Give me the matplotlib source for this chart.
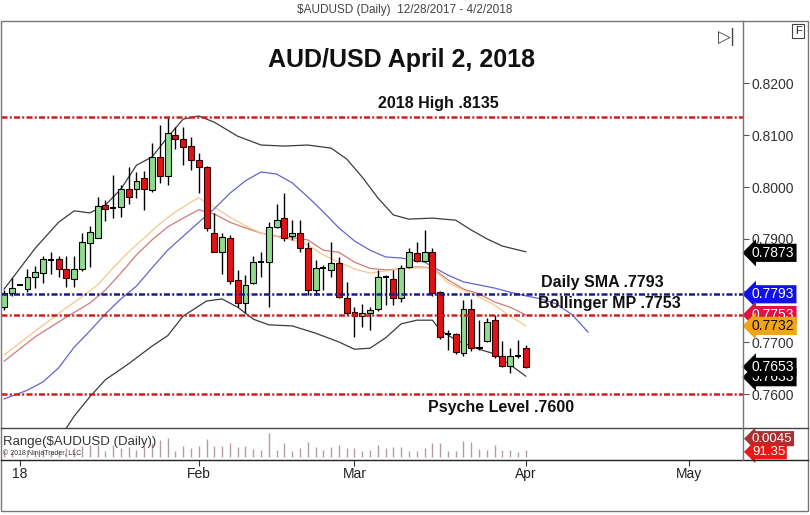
import matplotlib
matplotlib.use("Agg")
import matplotlib.pyplot as plt
import numpy as np
from matplotlib.transforms import blended_transform_factory
from matplotlib.lines import Line2D
from matplotlib.patches import Rectangle

# ---------------- data ----------------
opens = [0.7768,0.7795,0.7811,0.7803,0.7827,0.7835,0.7859,0.7861,0.7841,0.7822,
         0.7841,0.7891,0.7901,0.7965,0.7960,0.7962,0.7996,0.7997,0.8017,0.7994,
         0.8058,0.8022,0.8100,0.8092,0.8079,0.8053,0.8038,0.7911,0.7875,0.7901,
         0.7821,0.7777,0.7814,0.7856,0.7856,0.7923,0.7940,0.7906,0.7911,0.7882,
         0.7801,0.7843,0.7839,0.7853,0.7785,0.7758,0.7752,0.7756,0.7764,0.7826,
         0.7822,0.7785,0.7845,0.7872,0.7858,0.7875,0.7797,0.7716,0.7716,0.7680,
         0.7764,0.7689,0.7703,0.7743,0.7674,0.7655,0.7673,0.7689]
highs = [0.7801,0.7824,0.7812,0.7842,0.7847,0.7867,0.7875,0.7866,0.7867,0.7867,
         0.7911,0.7925,0.7980,0.7975,0.8023,0.8004,0.8038,0.8028,0.8031,0.8084,
         0.8120,0.8136,0.8116,0.8116,0.8097,0.8065,0.8041,0.7950,0.7911,0.7907,
         0.7840,0.7830,0.7866,0.7875,0.7933,0.7968,0.7988,0.7936,0.7936,0.7894,
         0.7859,0.7850,0.7894,0.7865,0.7817,0.7769,0.7774,0.7769,0.7840,0.7830,
         0.7840,0.7850,0.7882,0.7894,0.7917,0.7882,0.7800,0.7724,0.7718,0.7782,
         0.7784,0.7743,0.7747,0.7753,0.7702,0.7689,0.7705,0.7695]
lows = [0.7762,0.7790,0.7810,0.7797,0.7805,0.7815,0.7833,0.7827,0.7808,0.7808,
        0.7838,0.7846,0.7901,0.7934,0.7941,0.7942,0.7967,0.7978,0.7956,0.7991,
        0.8007,0.8004,0.8073,0.8042,0.8033,0.7988,0.7915,0.7875,0.7833,0.7813,
        0.7769,0.7756,0.7812,0.7827,0.7769,0.7920,0.7895,0.7898,0.7875,0.7792,
        0.7792,0.7801,0.7827,0.7785,0.7753,0.7711,0.7730,0.7724,0.7760,0.7772,
        0.7772,0.7779,0.7843,0.7856,0.7856,0.7790,0.7706,0.7686,0.7678,0.7673,
        0.7684,0.7686,0.7701,0.7670,0.7653,0.7641,0.7670,0.7650]
closes = [0.7795,0.7806,0.7811,0.7826,0.7836,0.7862,0.7859,0.7841,0.7824,0.7841,
          0.7893,0.7914,0.7963,0.7958,0.7960,0.7997,0.7981,0.8011,0.7996,0.8057,
          0.8022,0.8105,0.8092,0.8078,0.8053,0.8038,0.7920,0.7875,0.7904,0.7819,
          0.7777,0.7810,0.7856,0.7856,0.7923,0.7936,0.7901,0.7912,0.7882,0.7801,
          0.7843,0.7843,0.7853,0.7788,0.7756,0.7752,0.7757,0.7763,0.7826,0.7826,
          0.7785,0.7843,0.7874,0.7858,0.7875,0.7795,0.7710,0.7716,0.7681,0.7764,
          0.7689,0.7692,0.7739,0.7674,0.7655,0.7673,0.7673,0.7653]

upper_idx = [0,4,7,9,11,13,15,17,19,21,23,25,27,30,33,36,39,42,44,46,48,50,52,55,58,60,62,64,67]
upper_val = [0.7803,0.7882,0.7932,0.7954,0.7950,0.7965,0.7996,0.8042,0.8058,0.8096,0.8131,0.8137,
             0.8125,0.8098,0.8081,0.8079,0.8081,0.8075,0.8054,0.8019,0.7979,0.7946,0.7938,0.7940,
             0.7936,0.7917,0.7900,0.7886,0.7875]
lower_idx = [7,9,11,13,16,19,21,23,26,28,30,32,34,37,40,43,45,47,49,51,53,55,56,58,61,63,65,67]
lower_val = [0.7512,0.7558,0.7595,0.7628,0.7659,0.7693,0.7713,0.7751,0.7780,0.7784,0.7768,0.7745,
             0.7734,0.7732,0.7718,0.7701,0.7687,0.7689,0.7709,0.7736,0.7743,0.7743,0.7724,0.7705,
             0.7687,0.7678,0.7657,0.7635]
mid_idx = [0,4,8,11,13,15,17,19,21,23,25,27,29,31,33,35,37,39,41,43,45,47,49,51,53,55,57,59,61,63,65,67]
mid_val = [0.7664,0.7711,0.7749,0.7776,0.7801,0.7834,0.7869,0.7898,0.7923,0.7940,0.7956,0.7948,
           0.7932,0.7921,0.7911,0.7905,0.7902,0.7898,0.7878,0.7874,0.7855,0.7843,0.7840,0.7842,
           0.7846,0.7844,0.7821,0.7803,0.7794,0.7778,0.7768,0.7753]
ema_idx = [0,4,8,10,12,14,16,18,20,22,24,25,27,29,31,33,35,37,39,41,43,45,47,49,51,53,55,57,59,61,63,65,67]
ema_val = [0.7676,0.7722,0.7767,0.7788,0.7811,0.7844,0.7875,0.7902,0.7929,0.7952,0.7971,0.7979,
           0.7961,0.7942,0.7925,0.7911,0.7904,0.7898,0.7888,0.7869,0.7855,0.7842,0.7834,0.7838,
           0.7842,0.7844,0.7844,0.7815,0.7801,0.7788,0.7772,0.7751,0.7732]
sma_idx = [0,3,5,7,9,11,13,15,17,19,21,23,25,27,29,31,33,35,37,39,41,43,45,47,49,51,54,57,59,61,
           63,65,67,69,71,73,75]
sma_val = [0.7591,0.7608,0.7624,0.7651,0.7691,0.7722,0.7755,0.7784,0.7809,0.7844,0.7878,0.7905,
           0.7932,0.7958,0.7988,0.8012,0.8029,0.8025,0.8008,0.7981,0.7952,0.7921,0.7896,0.7878,
           0.7865,0.7863,0.7855,0.7830,0.7817,0.7811,0.7805,0.7797,0.7790,0.7784,0.7774,0.7753,0.7720]

level_vals = [0.8135, 0.7793, 0.7753, 0.7600]
level_labels = ["2018 High .8135", "Daily SMA .7793", "Bollinger MP .7753", "Psyche Level .7600"]

month_pos = [2, 25, 45, 67, 88]
month_labels = ["18", "Feb", "Mar", "Apr", "May"]
price_ticks = [0.76, 0.77, 0.78, 0.79, 0.80, 0.81, 0.82]

flag_vals = [0.7873, 0.7793, 0.7753, 0.7732, 0.7633, 0.7653]
flag_texts = ["0.7873", "0.7793", "0.7753", "0.7732", "0.7633", "0.7653"]

# ---------------- figure ----------------
W, H = 810, 515
fig = plt.figure(figsize=(W/100, H/100), dpi=100)
fig.patch.set_facecolor("white")
plt.rcParams['font.family'] = ['Liberation Sans', 'DejaVu Sans']

def fx(px): return px / W
def fy(py): return 1 - py / H

AXL, AXR, AXT, AXB = 1, 743, 21, 428
ax = fig.add_axes([fx(AXL), fy(AXB), fx(AXR) - fx(AXL), fy(AXT) - fy(AXB)])
axr = fig.add_axes([fx(AXL), fy(460), fx(AXR) - fx(AXL), fy(AXB) - fy(460)], sharex=ax)

n = len(opens)
idx = np.arange(n)
o = np.array(opens); c = np.array(closes); h = np.array(highs); l = np.array(lows)

# wicks
ax.vlines(idx, l, h, color="black", lw=1.0, zorder=3)
up = c > o
dn = c < o
dj = c == o
bw = 0.76
ax.bar(idx[up], (c - o)[up], bottom=o[up], width=bw, color="#8fdc8f", edgecolor="black", lw=0.8, zorder=4)
ax.bar(idx[dn], (o - c)[dn], bottom=c[dn], width=bw, color="#e01212", edgecolor="#300000", lw=0.8, zorder=4)
ax.hlines(c[dj], idx[dj] - bw/2, idx[dj] + bw/2, color="black", lw=1.4, zorder=4)

# indicator curves
ax.plot(upper_idx, upper_val, color="#3c3c3c", lw=0.9, zorder=2)
ax.plot(lower_idx, lower_val, color="#3c3c3c", lw=0.9, zorder=2)
ax.plot(mid_idx, mid_val, color="#d07a7a", lw=0.9, zorder=2)
ax.plot(ema_idx, ema_val, color="#f3c98a", lw=0.9, zorder=2)
ax.plot(sma_idx, sma_val, color="#6464cc", lw=0.9, zorder=2)

# horizontal levels
dash = (0, (2.4, 0.9, 0.8, 0.9))
lvl_colors = ["#cc2020", "#1a1a8c", "#cc2020", "#cc2020"]
for v, col in zip(level_vals, lvl_colors):
    ax.axhline(v, color=col, lw=1.8, ls=dash, zorder=5)

tf = dict(fontsize=11.5, fontweight="bold", color="#111111", zorder=6)
ax.annotate(level_labels[0], (48.0, level_vals[0]), xytext=(0, 4), textcoords="offset points",
            ha="left", va="bottom", **tf)
ax.annotate(level_labels[1], (68.9, level_vals[1]), xytext=(0, 3), textcoords="offset points",
            ha="left", va="bottom", **tf)
ax.annotate(level_labels[2], (68.6, level_vals[2]), xytext=(0, 3), textcoords="offset points",
            ha="left", va="bottom", **tf)
ax.annotate(level_labels[3], (54.4, level_vals[3]), xytext=(0, -4), textcoords="offset points",
            ha="left", va="top", **tf)

ax.set_xlim(-0.4, 94.9)
ax.set_ylim(0.75350, 0.83203)
for s in ax.spines.values():
    s.set_visible(False)
ax.yaxis.tick_right()
ax.set_yticks(price_ticks)
ax.set_yticklabels(["%.4f" % v for v in price_ticks])
ax.tick_params(axis="y", direction="out", length=4, width=0.8, color="#555555",
               labelsize=10, labelcolor="#333333", pad=2)
ax.tick_params(axis="x", bottom=False, labelbottom=False)

# flags on the price axis
trans = blended_transform_factory(ax.transAxes, ax.transData)
flag_bg = ["#000000", "#1010e8", "#dc1440", "#f0a418", "#000000", "#000000"]
flag_fg = ["white", "white", "white", "#111111", "white", "white"]
for v, t, bg, fg in zip(flag_vals, flag_texts, flag_bg, flag_fg):
    ax.text(1.0 + 9/742, v, t, transform=trans, ha="left", va="center", fontsize=10, color=fg,
            bbox=dict(boxstyle="larrow,pad=0.15", fc=bg, ec="none"), clip_on=False, zorder=10)

# range panel
rng = h - l
axr.vlines(idx, 0, rng, color="#b89aa4", lw=1.0)
axr.set_ylim(-0.0021, 0.0198)
for s in axr.spines.values():
    s.set_visible(False)
axr.set_yticks([])
axr.set_xticks(month_pos)
axr.set_xticklabels(month_labels)
axr.tick_params(axis="x", direction="out", length=4, width=0.8, color="#333333",
                labelsize=10, labelcolor="#222222", pad=1)
axr.text(0.003, 0.55, "Range($AUDUSD (Daily))", transform=axr.transAxes, fontsize=9.5,
         color="#333333", ha="left", va="center", parse_math=False)
axr.text(0.003, 0.2, "\u00a9 2018 NinjaTrader, LLC", transform=axr.transAxes, fontsize=5,
         color="#333333", ha="left", va="center")
trr = blended_transform_factory(axr.transAxes, axr.transData)
axr.text(1.0 + 9/742, 0.0125, "0.0045", transform=trr, ha="left", va="center", fontsize=9.5,
         color="white", bbox=dict(boxstyle="larrow,pad=0.12", fc="#a83232", ec="none"),
         clip_on=False, zorder=10)
axr.text(1.0 + 9/742, 0.0035, "91.35", transform=trr, ha="left", va="center", fontsize=9.5,
         color="white", bbox=dict(boxstyle="larrow,pad=0.12", fc="#e81818", ec="none"),
         clip_on=False, zorder=11)

# frame and separators
def fline(x0, y0, x1, y1, col="#555555", lw=1.0):
    fig.add_artist(Line2D([fx(x0), fx(x1)], [fy(y0), fy(y1)], color=col, lw=lw))

fig.add_artist(Rectangle((fx(1), fy(511)), fx(808) - fx(1), fy(21) - fy(511), fill=False,
                         ec="#777777", lw=1.0))
fline(1, 428, 808, 428, "#444444")
fline(1, 460, 808, 460, "#222222")
fline(743, 21, 743, 460, "#777777")

# titles
fig.text(fx(405), fy(10), "$AUDUSD (Daily)  12/28/2017 - 4/2/2018", ha="center", va="center",
         fontsize=8.5, color="#444444", family=["Liberation Sans Narrow", "Liberation Sans", "DejaVu Sans"],
         parse_math=False)
fig.text(fx(401), fy(60), "AUD/USD April 2, 2018", ha="center", va="center", fontsize=18,
         fontweight="bold", color="#111111")
fig.text(fx(798), fy(31), "F", ha="center", va="center", fontsize=8, color="#222222",
         bbox=dict(boxstyle="square,pad=0.2", fc="white", ec="#444444", lw=0.8))
fig.text(fx(727), fy(37), "\u25b7|", ha="center", va="center", fontsize=12, color="#444444",
         family=["DejaVu Sans"])

fig.savefig("out.png", dpi=100)
